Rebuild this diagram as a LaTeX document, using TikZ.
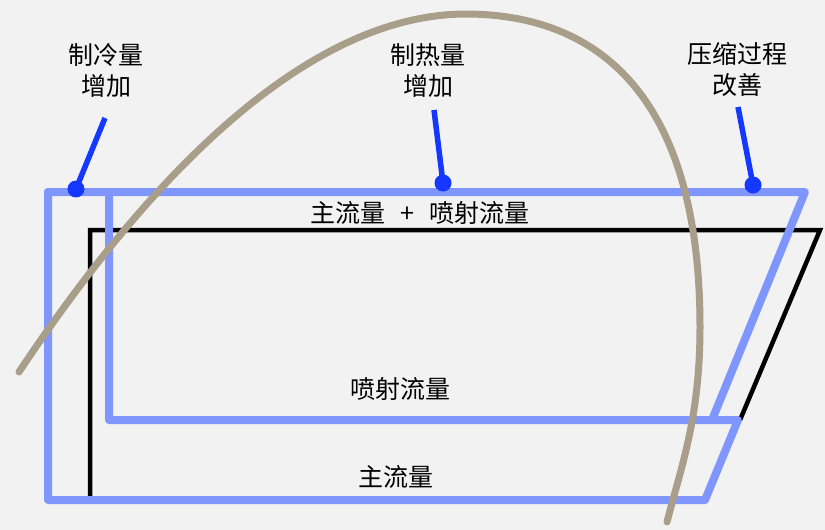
\documentclass[tikz,border=0pt]{standalone}
\usepackage{fontspec}
\setmainfont{Noto Sans CJK SC}
\usepackage{tikz}
\definecolor{paper}{HTML}{F2F2F2}
\definecolor{flowblue}{HTML}{8096FF}
\definecolor{pinblue}{HTML}{1438FF}
\definecolor{domecol}{HTML}{A89E8A}
\tikzset{
  bluepath/.style={draw=flowblue,line width=8pt,line cap=round,line join=round},
  pin/.style={draw=pinblue,line width=5.5pt},
  lab/.style={font=\fontsize{25}{31}\selectfont,align=center,inner sep=0pt}
}

\begin{document}
\begin{tikzpicture}[x=1pt,y=-1pt]
\fill[paper] (0,0) rectangle (825,530);

% corners of the outer blue loop
\node[coordinate] (o1) at (48,192) {};
\node[coordinate] (o2) at (805,192) {};
\node[coordinate] (o3) at (712,420) {};
% inner blue loop
\node[coordinate] (i1) at (109,192) {};
\node[coordinate] (i2) at (109,420) {};
\node[coordinate] (i3) at (738,420) {};
\node[coordinate] (i4) at (705,500) {};
\node[coordinate] (i5) at (48,500) {};
% black line
\node[coordinate] (b1) at (90,500) {};
\node[coordinate] (b2) at (90,230) {};
\node[coordinate] (b3) at (820,230) {};
\node[coordinate] (b4) at (740,420) {};

\draw[line width=4.5pt] (b1) -- (b2) -- (b3) -- (b4);
\draw[bluepath] (o1) -- (o2) -- (o3);
\draw[bluepath] (i1) -- (i2) -- (i3) -- (i4) -- (i5) -- (o1);

% the dome
\node[coordinate] (c1) at (19,372) {};
\node[coordinate] (c2) at (465,14) {};
\node[coordinate] (c3) at (700,327) {};
\node[coordinate] (c4) at (667,522) {};
\draw[domecol,line width=7pt,line cap=round] (c1)
  .. controls (140,190) and (300,15) .. (c2)
  .. controls (610,14) and (700,110) .. (c3)
  .. controls (700,420) and (680,470) .. (c4);

% pins
\node[coordinate] (p1) at (105,118) {};
\node[coordinate] (d1) at (76,189) {};
\node[coordinate] (p2) at (434,110) {};
\node[coordinate] (d2) at (443,183) {};
\node[coordinate] (p3) at (738,107) {};
\node[coordinate] (d3) at (753,185) {};
\draw[pin] (p1) -- (d1);
\fill[pinblue] (d1) circle (8.5);
\draw[pin] (p2) -- (d2);
\fill[pinblue] (d2) circle (8.5);
\draw[pin] (p3) -- (d3);
\fill[pinblue] (d3) circle (8.5);

% labels
\node[lab] (cool) at (106,70) {制冷量\\增加};
\node[lab] (heat) at (428,70) {制热量\\增加};
\node[lab] (comp) at (737,70) {压缩过程\\改善};
\node[lab] (sum) at (420,213) {主流量\hspace{0.6em}+\hspace{0.6em}喷射流量};
\node[lab] (inj) at (400,389) {喷射流量};
\node[lab] (main) at (396,477) {主流量};
\end{tikzpicture}
\end{document}
